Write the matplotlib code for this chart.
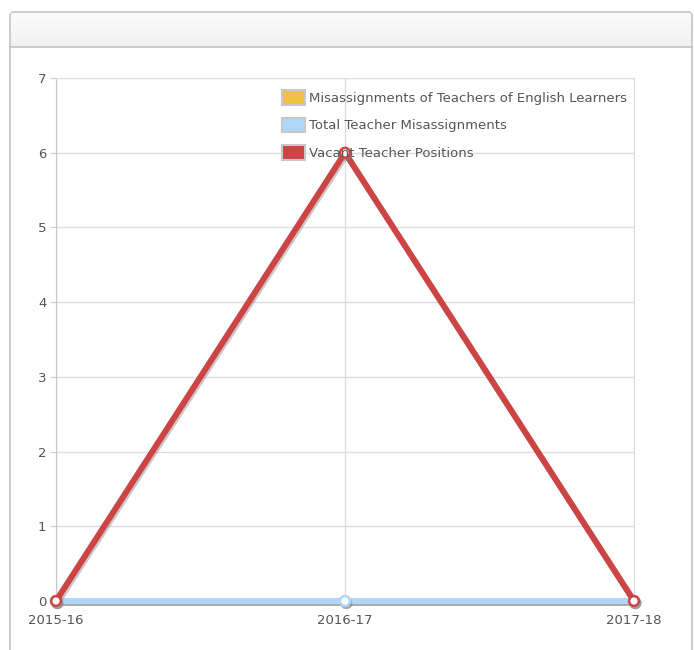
import matplotlib.pyplot as plt
import matplotlib.patheffects as pe
from matplotlib.patches import FancyBboxPatch, Rectangle
import numpy as np

years = ['2015-16', '2016-17', '2017-18']
el_misassign = [0, 0, 0]
total_misassign = [0, 0, 0]
vacant = [0, 6, 0]

W, H = 694, 650
fig = plt.figure(figsize=(W / 100, H / 100), dpi=100)
fig.patch.set_facecolor('white')

# panel frame with header band
panel = FancyBboxPatch((10 / W, -20 / H), 682 / W, (H - 12 + 20) / H,
                       boxstyle='round,pad=0,rounding_size=0.006',
                       transform=fig.transFigure, facecolor='white',
                       edgecolor='#c4c4c4', linewidth=1.2, zorder=0)
fig.patches.append(panel)
grad = np.linspace(0.985, 0.945, 50).reshape(-1, 1)
hax = fig.add_axes([11 / W, (H - 47) / H, 680 / W, 34 / H], zorder=1)
hax.imshow(np.dstack([grad, grad, grad]), aspect='auto', extent=(0, 1, 0, 1))
hax.axis('off')
fig.add_artist(plt.Line2D([10 / W, 692 / W], [(H - 47) / H] * 2, color='#c4c4c4', lw=1.2,
                          transform=fig.transFigure))

ax = fig.add_axes([56 / W, (H - 601) / H, (634 - 56) / W, (601 - 78) / H], zorder=2)
ax.set_facecolor('none')
x = np.arange(len(years))

shadow = [pe.SimpleLineShadow(offset=(1, -1.5), shadow_color='#888888', alpha=0.45), pe.Normal()]
ax.plot(x, el_misassign, color='#f0c23e', lw=4.3, marker='o', ms=7, mfc='white', mec='#f0c23e',
        mew=1.8, path_effects=shadow, zorder=3, clip_on=False)
ax.plot(x, total_misassign, color='#afd8f8', lw=4.3, marker='o', ms=7, mfc='white', mec='#afd8f8',
        mew=1.8, path_effects=shadow, zorder=4, clip_on=False)
ax.plot(x, vacant, color='#cc4444', lw=4.3, marker='o', ms=7, mfc='white', mec='#cc4444',
        mew=1.8, path_effects=shadow, zorder=5, clip_on=False)

ax.set_xlim(0, 2)
ax.set_ylim(0, 7)
ax.set_xticks(x)
ax.set_xticklabels(years)
ax.set_yticks(range(8))
ax.grid(True, color='#dddddd', lw=1)
ax.set_axisbelow(True)
for s in ['top', 'right']:
    ax.spines[s].set_color('#dddddd')
ax.spines['left'].set_color('#c8c8c8')
ax.spines['bottom'].set_visible(False)
ax.tick_params(axis='both', colors='#555555', labelsize=9.5, length=0, pad=6)
ax.tick_params(axis='y', length=4, color='#cccccc', pad=3)
ax.tick_params(axis='x', pad=9)

handles = [Rectangle((0, 0), 1, 1, facecolor=c, edgecolor='#c8c8c8', lw=1.5)
           for c in ['#f0c23e', '#afd8f8', '#cc4444']]
labels = ['Misassignments of Teachers of English Learners', 'Total Teacher Misassignments',
          'Vacant Teacher Positions']
leg = ax.legend(handles, labels, loc='upper left', bbox_to_anchor=((282 - 56) / (634 - 56), 1 - 12 / 523),
                frameon=False, fontsize=9.5, handlelength=1.75, handleheight=1.35, handletextpad=0.3,
                labelspacing=0.97, borderpad=0, borderaxespad=0, labelcolor='#555555')

fig.savefig('out.png', dpi=100)
